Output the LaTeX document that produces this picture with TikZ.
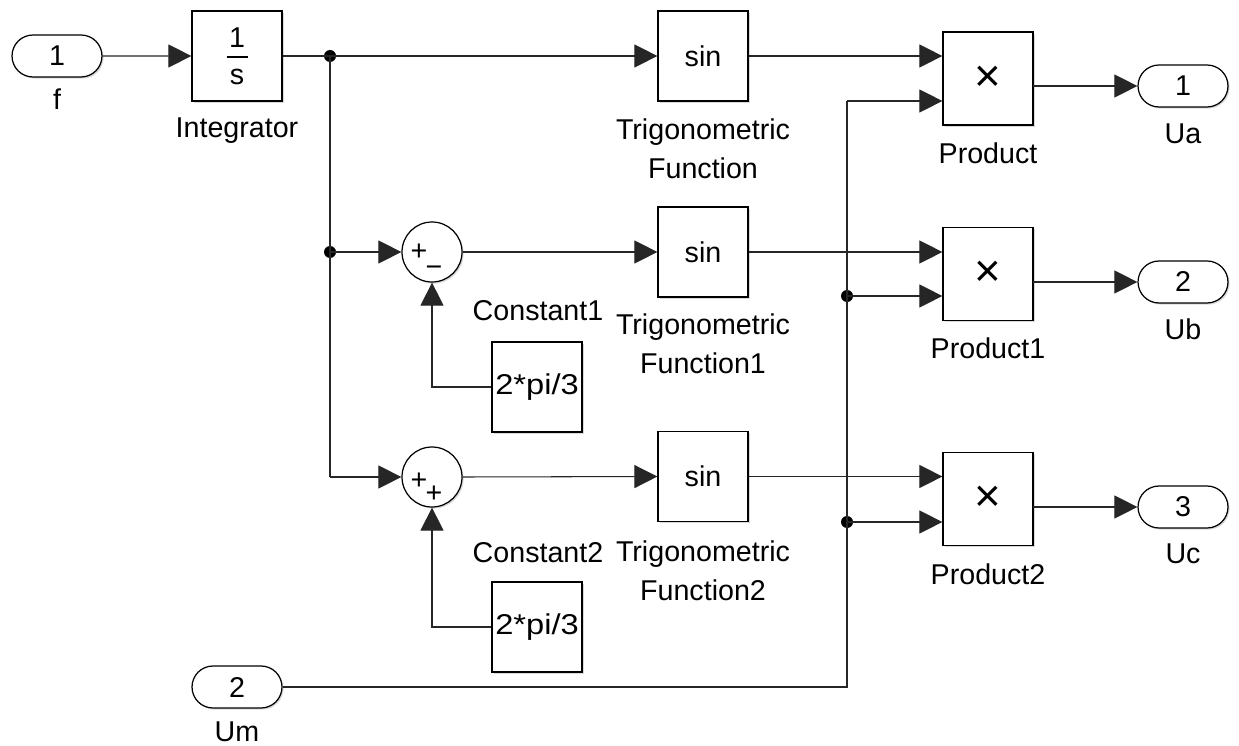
\documentclass[tikz,border=0pt]{standalone}
\usepackage{fontspec}
\setmainfont{Liberation Sans}
\usetikzlibrary{arrows.meta,shapes.misc,shadows}
\begin{document}
\begin{tikzpicture}[x=0.02cm,y=-0.02cm,
  font=\fontsize{16.3}{22.7}\selectfont,
  shad/.style={drop shadow={opacity=0.3,shadow xshift=0.9pt,shadow yshift=-0.9pt}},
  blk/.style={draw,fill=white,line width=0.7pt,minimum width=1.8cm,minimum height=1.8cm,inner sep=0pt,shad},
  prodblk/.style={blk,minimum height=1.86cm,font=\fontsize{26}{26}\selectfont},
  port/.style={draw,fill=white,rounded rectangle,line width=0.7pt,minimum width=1.8cm,minimum height=0.84cm,inner sep=0pt,shad},
  sumc/.style={draw,fill=white,circle,minimum size=1.2cm,inner sep=0pt,line width=0.7pt,shad},
  lbl/.style={align=center,inner sep=0pt,anchor=north},
  sgn/.style={inner sep=0pt,anchor=base},
  wire/.style={line width=0.6pt,draw=black!85},
  sig/.style={wire,-{Triangle[length=0.46cm,width=0.46cm]}},
  jdot/.style={circle,fill=black,inner sep=0pt,minimum size=0.24cm},
]
\useasboundingbox (0,0) rectangle (1239,746);

% ---- blocks ----
\node[port] (f) at (57,56) {1};
\node[lbl] (flbl) at (57,88) {f};
\node[blk] (integ) at (237,56) {};
\node[inner sep=0pt] (inum) at (237,38) {1};
\node[inner sep=0pt] (iden) at (237,77) {s};
\draw[line width=1.3pt] (226.5,57) -- (248,57);
\node[lbl] (intlbl) at (237,117) {Integrator};

\node[blk] (trig) at (703,56) {sin};
\node[lbl] (triglbl) at (703,118) {Trigonometric\\Function};
\node[blk] (trig1) at (703,252) {sin};
\node[lbl] (trig1lbl) at (703,313) {Trigonometric\\Function1};
\node[blk] (trig2) at (703,476.5) {sin};
\node[lbl] (trig2lbl) at (703,540) {Trigonometric\\Function2};

\node[sumc] (s1) at (432,252) {};
\node[sgn] (s1a) at (419,260) {+};
\node[sgn] (s1b) at (434,276) {−};
\node[sumc] (s2) at (432,477) {};
\node[sgn] (s2a) at (419,489) {+};
\node[sgn] (s2b) at (434,502) {+};

\node[blk] (k1) at (537,387) {\scalebox{1.14}[1]{2*pi/3}};
\node[lbl] (k1lbl) at (538,300) {Constant1};
\node[blk] (k2) at (537,627) {\scalebox{1.14}[1]{2*pi/3}};
\node[lbl] (k2lbl) at (538,542) {Constant2};

\node[port] (um) at (237,687) {2};
\node[lbl] (umlbl) at (237,721) {Um};

\node[prodblk] (p0) at (988,78.5) {×};
\node[lbl] (p0lbl) at (988,142) {Product};
\node[prodblk] (p1) at (988,274) {×};
\node[lbl] (p1lbl) at (988,337) {Product1};
\node[prodblk] (p2) at (988,499) {×};
\node[lbl] (p2lbl) at (988,563) {Product2};

\node[port] (ua) at (1183,86) {1};
\node[lbl] (ualbl) at (1183,123) {Ua};
\node[port] (ub) at (1183,282) {2};
\node[lbl] (ublbl) at (1183,318) {Ub};
\node[port] (uc) at (1183,507) {3};
\node[lbl] (uclbl) at (1183,543) {Uc};

% ---- junctions and corners ----
\node[jdot] (d0) at (330,56) {};
\node[jdot] (d1) at (330,252) {};
\coordinate (c2) at (330,477);
\coordinate (cu) at (847,101);
\node[jdot] (du1) at (847,296) {};
\node[jdot] (du2) at (847,522) {};
\coordinate (o0) at (1033,86);
\coordinate (o1) at (1033,282);
\coordinate (o2) at (1033,507);

% ---- connectors ----
\draw[sig] (f) -- (integ);
\draw[wire] (integ.east) -- (d0.center);
\draw[sig] (d0.center) -- (trig.west);
\draw[wire] (d0.center) -- (c2);
\draw[sig] (d1.center) -- (s1.west);
\draw[sig] (c2) -- (s2.west);
\draw[sig] (k1.west) -| (s1.south);
\draw[sig] (k2.west) -| (s2.south);
\draw[sig] (s1.east) -- (trig1.west);
\draw[sig] (s2.east) -- (trig2.west);
\draw[sig] (trig.east) -- (trig.east -| p0.west);
\draw[sig] (trig1.east) -- (trig1.east -| p1.west);
\draw[sig] (trig2.east) -- (trig2.east -| p2.west);
\draw[wire] (um.east) -| (cu);
\draw[sig] (cu) -- (cu -| p0.west);
\draw[sig] (du1.center) -- (du1.center -| p1.west);
\draw[sig] (du2.center) -- (du2.center -| p2.west);
\draw[sig] (o0) -- (ua.west);
\draw[sig] (o1) -- (ub.west);
\draw[sig] (o2) -- (uc.west);
\end{tikzpicture}
\end{document}
